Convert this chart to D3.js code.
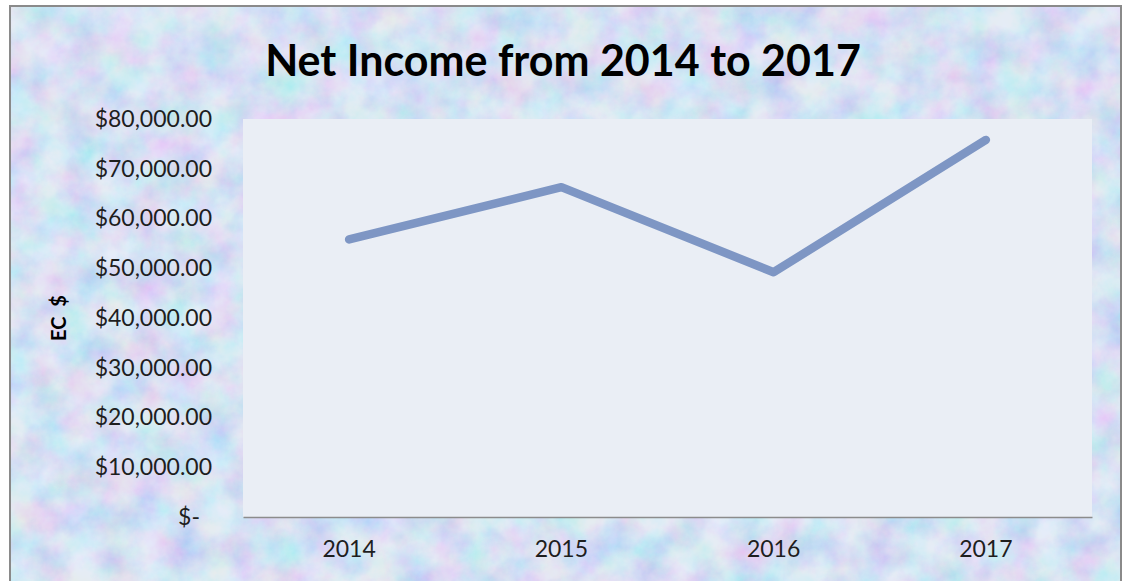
<!DOCTYPE html>
<html>
<head>
<meta charset="utf-8">
<script src="https://cdn.jsdelivr.net/npm/d3@7"></script>
<style>
  body { margin: 0; background: #fff; }
  svg text { font-family: Lato, "Open Sans", sans-serif; }
</style>
</head>
<body>
<div id="chart"></div>
<script>
const years = ["2014", "2015", "2016", "2017"];
const netIncome = [55800, 66300, 49200, 75800];
const yTicks = [0, 10000, 20000, 30000, 40000, 50000, 60000, 70000, 80000];

const W = 1123, H = 581;
const margin = {top: 119, right: 31, bottom: 64, left: 243};
const width = W - margin.left - margin.right;
const height = H - margin.top - margin.bottom;

const svg = d3.select("#chart").append("svg")
  .attr("width", W)
  .attr("height", H);

// pastel mottled background
const defs = svg.append("defs");
const f = defs.append("filter").attr("id", "mottle")
  .attr("x", 0).attr("y", 0).attr("width", "100%").attr("height", "100%");
f.append("feTurbulence")
  .attr("type", "fractalNoise")
  .attr("baseFrequency", 0.03)
  .attr("numOctaves", 6)
  .attr("seed", 11);
f.append("feColorMatrix")
  .attr("type", "matrix")
  .attr("values",
    "1.0 0 0 0 0.28 " +
    "0 0.8 0 0 0.44 " +
    "0 0 0.3 0 0.76 " +
    "0 0 0 0 1");

svg.append("rect")
  .attr("x", 10).attr("y", 6)
  .attr("width", 1111).attr("height", 580)
  .attr("filter", "url(#mottle)");
svg.append("rect")
  .attr("x", 10).attr("y", 6)
  .attr("width", 1111).attr("height", 580)
  .attr("fill", "#c0d2f0").attr("opacity", 0.42);
svg.append("rect")
  .attr("x", 10).attr("y", 6)
  .attr("width", 1111).attr("height", 580)
  .attr("fill", "none").attr("stroke", "#8a8a8a").attr("stroke-width", 2);

svg.append("text")
  .attr("x", 563).attr("y", 76)
  .attr("text-anchor", "middle")
  .style("font-size", "43px")
  .style("font-weight", "bold")
  .attr("fill", "#000")
  .text("Net Income from 2014 to 2017");

const g = svg.append("g")
  .attr("transform", "translate(" + margin.left + "," + margin.top + ")");

const x = d3.scaleBand().domain(years).range([0, width]);
const y = d3.scaleLinear().domain([0, 80000]).range([height, 0]);

g.append("rect")
  .attr("width", width).attr("height", height)
  .attr("fill", "#eaeef5");

const fmt = d => d === 0 ? "$-" : "$" + d3.format(",.2f")(d);

const yAxis = g.append("g")
  .call(d3.axisLeft(y).tickValues(yTicks).tickFormat(fmt).tickSize(0).tickPadding(31));
yAxis.select(".domain").remove();
yAxis.selectAll("text")
  .style("font-size", "23px")
  .attr("fill", "#1e1e1e")
  .attr("dx", d => d === 0 ? -12 : 0);

const xAxis = g.append("g")
  .attr("transform", "translate(0," + height + ")")
  .call(d3.axisBottom(x).tickSize(0).tickPadding(24));
xAxis.select(".domain").attr("stroke", "#8c8c8c").attr("stroke-width", 1.5);
xAxis.selectAll("text")
  .style("font-size", "23px")
  .attr("fill", "#1e1e1e");

svg.append("text")
  .attr("transform", "translate(66," + (margin.top + y(40000)) + ") rotate(-90)")
  .attr("text-anchor", "middle")
  .style("font-size", "20px")
  .style("font-weight", "bold")
  .style("white-space", "pre")
  .attr("fill", "#000")
  .text("EC  $");

const line = d3.line()
  .x((d, i) => x(years[i]) + x.bandwidth() / 2)
  .y(d => y(d));

g.append("path")
  .datum(netIncome)
  .attr("d", line)
  .attr("fill", "none")
  .attr("stroke", "#7e96c4")
  .attr("stroke-width", 8.5)
  .attr("stroke-linecap", "round")
  .attr("stroke-linejoin", "round");
</script>
</body>
</html>
